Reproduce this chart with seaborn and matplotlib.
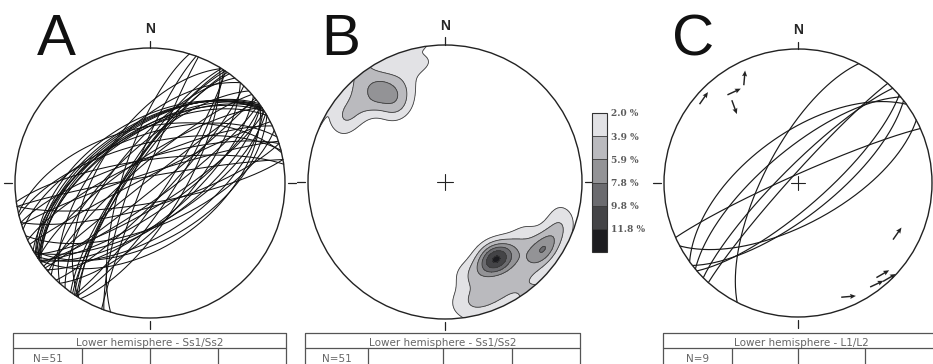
import numpy as np
import pandas as pd
import matplotlib
matplotlib.use("Agg")
import matplotlib.pyplot as plt
from matplotlib.patches import Circle
import seaborn as sns

# Ss1/Ss2 planes, strike (right-hand rule) / dip, panels A and B (N=51)
ss_strike = [238, 235, 236, 240, 234, 237, 238, 235,
             214, 215, 213, 216, 212,
             222, 227, 236, 229, 219,
             253, 245, 256, 252, 243,
             200, 197, 201,
             257, 262, 260, 236, 212, 232, 250,
             57, 59, 55, 60, 54, 51, 58, 55,
             33, 34, 31, 73, 80, 42, 67, 50, 55, 44]
ss_dip = [52, 56, 60, 59, 57, 54, 58, 59,
          76, 78, 77, 76, 75,
          58, 69, 75, 79, 68,
          75, 76, 66, 84, 86,
          79, 73, 86,
          56, 76, 86, 55, 58, 88, 61,
          59, 66, 52, 55, 80, 86, 76, 73,
          76, 81, 70, 76, 78, 68, 64, 68, 66, 80]

# L1/L2 panel C: planes and lineations (N=9)
c_strike = [207, 246, 62, 225, 230, 49, 234, 222, 52]
c_dip = [69, 85, 65, 80, 70, 75, 60, 85, 70]
lin_trend = [312, 333, 325, 320, 117, 137, 136, 142, 156]
lin_plunge = [6, 13, 18, 27, 18, 8, 2, 5, 8]
lin_arrow = [35, 5, 65, 160, 35, 60, 60, 65, 85]

density_levels = [2.0, 3.9, 5.9, 7.8, 9.8, 11.8]
panel_letters = ["A", "B", "C"]
table_titles = ["Lower hemisphere - Ss1/Ss2", "Lower hemisphere - Ss1/Ss2",
                "Lower hemisphere - L1/L2"]
table_counts = ["N=51", "N=51", "N=9"]

W, H = 933, 364


def project(east, north, down):
    """equal-area (Schmidt) lower hemisphere projection"""
    theta = np.arccos(np.clip(down, -1, 1))
    az = np.arctan2(east, north)
    r = np.sqrt(2) * np.sin(theta / 2)
    return r * np.sin(az), r * np.cos(az)


def line_vec(trend, plunge):
    tr, pl = np.radians(trend), np.radians(plunge)
    return np.array([np.cos(pl) * np.sin(tr), np.cos(pl) * np.cos(tr), np.sin(pl)])


def great_circles(strikes, dips, n=181):
    rows = []
    t = np.linspace(0, np.pi, n)
    for i, (s, d) in enumerate(zip(strikes, dips)):
        sv = line_vec(s, 0)
        dv = line_vec(s + 90, d)
        v = np.outer(np.cos(t), sv) + np.outer(np.sin(t), dv)
        x, y = project(v[:, 0], v[:, 1], v[:, 2])
        rows.append(pd.DataFrame({"x": x, "y": y, "plane": i}))
    return pd.concat(rows, ignore_index=True)


def pole_density(strikes, dips, k=70, n=300):
    """percent of poles per 1% area, exponential kernel on the sphere"""
    poles = np.array([line_vec(s - 90, 90 - d) for s, d in zip(strikes, dips)])
    g = np.linspace(-1.02, 1.02, n)
    X, Y = np.meshgrid(g, g)
    r = np.clip(np.hypot(X, Y), 0, 1)
    theta = 2 * np.arcsin(r / np.sqrt(2))
    az = np.arctan2(X, Y)
    vec = np.stack([np.sin(theta) * np.sin(az), np.sin(theta) * np.cos(az),
                    np.cos(theta)], axis=-1)
    cos = np.abs(vec @ poles.T)
    dens = np.exp(k * (cos - 1)).sum(axis=-1) * k / len(strikes)
    return X, Y, dens


def net_axes(fig, cx, cy, R, m=1.36):
    ax = fig.add_axes([(cx - m * R) / W, 1 - (cy + m * R) / H, 2 * m * R / W, 2 * m * R / H])
    ax.set_xlim(-m, m)
    ax.set_ylim(-m, m)
    ax.axis("off")
    ax.patch.set_alpha(0)
    rim = Circle((0, 0), 1, fill=False, lw=1.0, ec="#222222", zorder=5)
    ax.add_patch(rim)
    for x0, y0, x1, y1 in [(0, 1.0, 0, 1.055), (0, -1.02, 0, -1.08),
                           (1.02, 0, 1.08, 0), (-1.02, 0, -1.08, 0)]:
        ax.plot([x0, x1], [y0, y1], color="#222222", lw=0.9)
    ax.text(0, 1.09, "N", ha="center", va="bottom", fontsize=10, fontweight="bold",
            family=["Liberation Sans", "DejaVu Sans"])
    return ax


def center_cross(ax, s=0.055):
    ax.plot([-s, s], [0, 0], color="#222222", lw=0.8, zorder=6)
    ax.plot([0, 0], [-s, s], color="#222222", lw=0.8, zorder=6)


def draw_table(ax, left, right, cols, title, count):
    top, mid, bot = 333, 348, 368
    kw = dict(color="#555555", lw=0.9)
    ax.plot([left, right, right, left, left], [bot, bot, top, top, bot], **kw)
    ax.plot([left, right], [mid, mid], **kw)
    for c in cols:
        ax.plot([c, c], [mid, bot], **kw)
    ax.text((left + right) / 2, 346.5, title, ha="center", va="baseline",
            fontsize=7.5, color="#666666")
    ax.text((left + cols[0]) / 2, 362, count, ha="center", va="baseline",
            fontsize=7.5, color="#666666")


sns.set_style("white")
plt.rcParams["font.family"] = ["DejaVu Sans"]

fig = plt.figure(figsize=(W / 100, H / 100), dpi=100)

# page overlay in pixel units for letters and tables
page = fig.add_axes([0, 0, 1, 1])
page.set_xlim(0, W)
page.set_ylim(H, 0)
page.axis("off")

# A: great circles of Ss1/Ss2
axA = net_axes(fig, 150, 183, 135)
gcA = great_circles(ss_strike, ss_dip)
sns.lineplot(data=gcA, x="x", y="y", units="plane", estimator=None, sort=False,
             color="#111111", linewidth=0.75, ax=axA)
axA.axis("off")

# B: pole density contours
axB = net_axes(fig, 445, 182, 137)
X, Y, dens = pole_density(ss_strike, ss_dip)
greys = sns.blend_palette(["#e2e2e5", "#1c1c20"], len(density_levels))
bounds = density_levels + [max(dens.max(), density_levels[-1]) + 1]
cs = axB.contourf(X, Y, dens, levels=bounds, colors=greys)
cl = axB.contour(X, Y, dens, levels=density_levels, colors="#3c3c3c", linewidths=0.6)
clip = Circle((0, 0), 1, transform=axB.transData)
cs.set_clip_path(clip)
cl.set_clip_path(clip)
center_cross(axB)

cax = fig.add_axes([592 / W, 1 - 252 / H, 15 / W, 139 / H])
cb = fig.colorbar(cs, cax=cax, spacing="uniform", ticks=density_levels)
cb.add_lines(cl)
cax.invert_yaxis()
cb.outline.set_linewidth(0.8)
cb.outline.set_edgecolor("#333333")
cax.tick_params(length=0, pad=3)
cax.set_yticklabels([f"{v:.1f} %" for v in density_levels], fontsize=6.5,
                    color="#5a5a5a", fontweight="bold", family=["DejaVu Serif"])

# C: L1/L2 planes and lineations
axC = net_axes(fig, 798, 183, 134)
gcC = great_circles(c_strike, c_dip)
sns.lineplot(data=gcC, x="x", y="y", units="plane", estimator=None, sort=False,
             color="#1a1a1a", linewidth=0.85, ax=axC)
axC.axis("off")
center_cross(axC)
lv = np.array([line_vec(t, p) for t, p in zip(lin_trend, lin_plunge)])
lx, ly = project(lv[:, 0], lv[:, 1], lv[:, 2])
ar = np.radians(lin_arrow)
axC.quiver(lx, ly, 0.11 * np.sin(ar), 0.11 * np.cos(ar), angles="xy", scale_units="xy",
           scale=1, pivot="middle", width=0.004, headwidth=3.5, headlength=4,
           headaxislength=3.5, color="#222222")

# panel letters
for letter, x in zip(panel_letters, [37, 321, 672]):
    page.text(x, 55, letter, fontsize=42, ha="left", va="baseline",
              family=["Liberation Sans", "DejaVu Sans"], color="#111111")

draw_table(page, 13, 286, [82, 150, 218], table_titles[0], table_counts[0])
draw_table(page, 305, 580, [368, 443, 512], table_titles[1], table_counts[1])
draw_table(page, 663, 940, [732, 798, 865], table_titles[2], table_counts[2])

fig.savefig("out.png", dpi=100, facecolor="white")
